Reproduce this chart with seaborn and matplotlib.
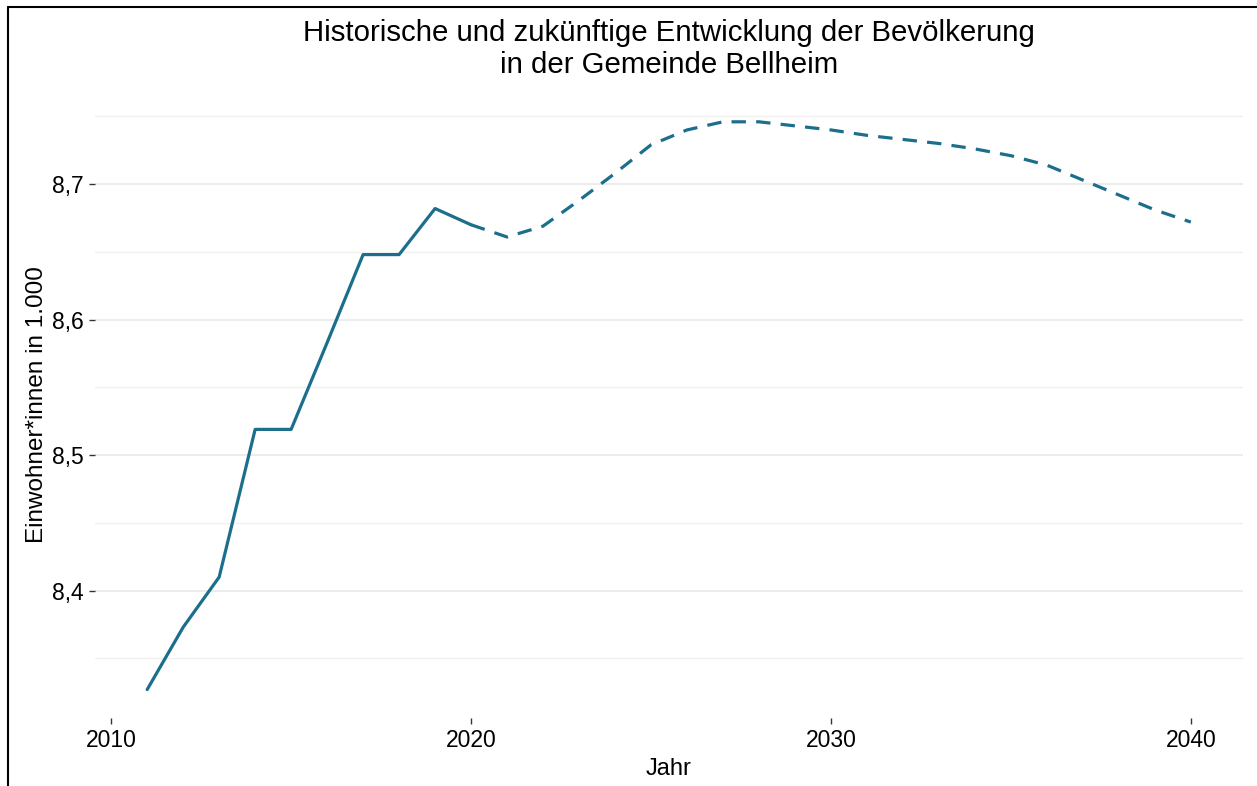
import numpy as np
import pandas as pd
import matplotlib
matplotlib.use("Agg")
import matplotlib.pyplot as plt
from matplotlib.lines import Line2D
from matplotlib.ticker import FixedLocator, FuncFormatter
import seaborn as sns

# Bevölkerung (in 1.000) - Ist-Werte
jahre_hist = [2011, 2012, 2013, 2014, 2015, 2016, 2017, 2018, 2019, 2020]
werte_hist = [8.327, 8.373, 8.410, 8.519, 8.519, 8.583, 8.648, 8.648, 8.682, 8.670]

# Vorausberechnung
jahre_prog = list(range(2020, 2041))
werte_prog = [8.670, 8.661, 8.669, 8.688, 8.708, 8.729, 8.740, 8.746, 8.746, 8.743,
              8.740, 8.736, 8.733, 8.730, 8.726, 8.721, 8.714, 8.703, 8.692, 8.681, 8.672]

linienfarbe = "#1c6e8d"

df_hist = pd.DataFrame({"Jahr": jahre_hist, "Wert": werte_hist})
df_prog = pd.DataFrame({"Jahr": jahre_prog, "Wert": werte_prog})

sns.set_theme(style="white")
plt.rcParams["font.family"] = ["Liberation Sans", "DejaVu Sans"]

fig = plt.figure(figsize=(12.57, 7.86), dpi=100)
ax = fig.add_axes([95 / 1257, 1 - 718 / 786, 1148 / 1257, 626 / 786])

sns.lineplot(data=df_hist, x="Jahr", y="Wert", ax=ax, color=linienfarbe, linewidth=2.3)
sns.lineplot(data=df_prog, x="Jahr", y="Wert", ax=ax, color=linienfarbe, linewidth=2.3,
             linestyle=(0, (4.5, 3.2)))

ax.set_xlim(2009.55, 2041.45)
ax.set_ylim(8.306, 8.768)

ax.xaxis.set_major_locator(FixedLocator([2010, 2020, 2030, 2040]))
ax.yaxis.set_major_locator(FixedLocator([8.4, 8.5, 8.6, 8.7]))
ax.yaxis.set_minor_locator(FixedLocator([8.35, 8.45, 8.55, 8.65, 8.75]))
ax.yaxis.set_major_formatter(FuncFormatter(lambda v, p: f"{v:.1f}".replace(".", ",")))

ax.grid(axis="y", which="major", color="#ebebeb", linewidth=1.3)
ax.grid(axis="y", which="minor", color="#f0f0f0", linewidth=1.0)
ax.grid(axis="x", visible=False)
for s in ax.spines.values():
    s.set_visible(False)

ax.tick_params(axis="both", which="major", labelsize=16.5, colors="#333333",
               labelcolor="black", length=4, width=1.0, pad=4, bottom=True, left=True)
ax.tick_params(axis="y", which="minor", length=0)

ax.set_xlabel("Jahr", fontsize=17, labelpad=4, color="black")
ax.set_ylabel("Einwohner*innen in 1.000", fontsize=17.5, labelpad=3, color="black")
fig.text(0.5 * (95 + 1243) / 1257, 1 - 49 / 786,
         "Historische und zukünftige Entwicklung der Bevölkerung\nin der Gemeinde Bellheim",
         fontsize=21.2, ha="center", va="center", linespacing=1.15, color="black")

# Rahmen des Ausschnitts (oben und links)
fig.add_artist(Line2D([8 / 1257, 8 / 1257], [0, 1 - 7 / 786], color="black", linewidth=1.5))
fig.add_artist(Line2D([8 / 1257, 1], [1 - 7 / 786, 1 - 7 / 786], color="black", linewidth=1.5))

fig.savefig("out.png", dpi=100)
